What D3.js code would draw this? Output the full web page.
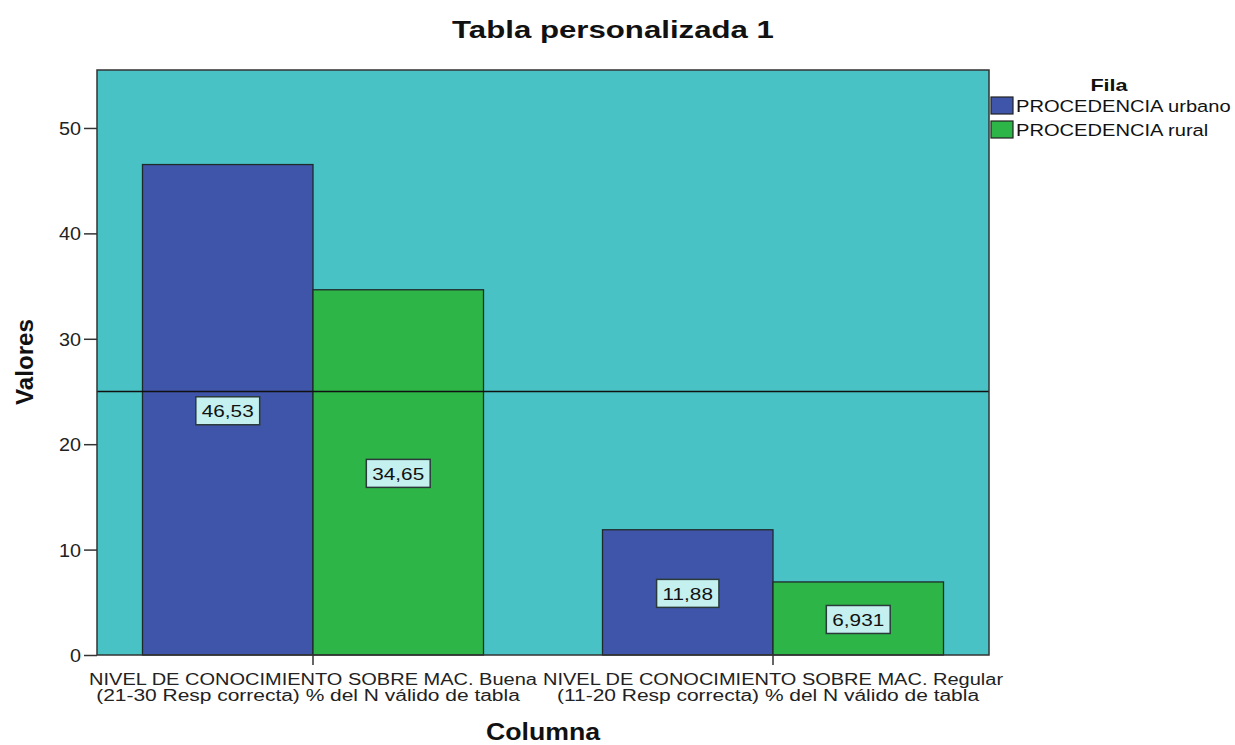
<!DOCTYPE html>
<html>
<head>
<meta charset="utf-8">
<script src="https://cdn.jsdelivr.net/npm/d3@7"></script>
<style>
  body { margin: 0; background: #fff; }
  svg text { font-family: "Liberation Sans", Arial, sans-serif; }
</style>
</head>
<body>
<div id="chart"></div>
<script>
// categories and series
const categories = [
  ["NIVEL DE CONOCIMIENTO SOBRE MAC. Buena", "(21-30 Resp correcta) % del N válido de tabla"],
  ["NIVEL DE CONOCIMIENTO SOBRE MAC. Regular", "(11-20 Resp correcta) % del N válido de tabla"]
];
const seriesNames = ["PROCEDENCIA urbano", "PROCEDENCIA rural"];
const urbano = [46.53, 11.88];
const rural = [34.65, 6.931];
const valueLabels = [["46,53", "11,88"], ["34,65", "6,931"]];
const yTicks = [0, 10, 20, 30, 40, 50];
const refLine = 25;

const colors = ["#3f55a9", "#2db548"];

const W = 1235, H = 745;
const margin = { top: 70, right: 246, bottom: 90, left: 97 };
const width = W - margin.left - margin.right,
    height = H - margin.top - margin.bottom;

const svg = d3.select("#chart").append("svg")
    .attr("width", W).attr("height", H);

// text drawn a bit wider than the font, like the original export
function wideText(parent, x, y, sx, str, size, opts = {}) {
  const grp = parent.append("g")
      .attr("transform", `translate(${x},${y})${opts.rotate ? " rotate(" + opts.rotate + ")" : ""} scale(${sx},1)`);
  const t = grp.append("text")
      .attr("text-anchor", opts.anchor || "start")
      .attr("font-size", size)
      .attr("font-weight", opts.bold ? "bold" : "normal")
      .attr("fill", opts.fill || "#111")
      .text(str);
  if (opts.dy) t.attr("dy", opts.dy);
  return grp;
}

const g = svg.append("g")
    .attr("transform", `translate(${margin.left},${margin.top})`);

// scales
const x0 = d3.scaleBand().domain(d3.range(categories.length))
    .range([0, width]).paddingInner(0.2587).paddingOuter(0.0989);
const x1 = d3.scaleBand().domain(d3.range(seriesNames.length))
    .range([0, x0.bandwidth()]);
const y = d3.scaleLinear().domain([0, 55.5]).range([height, 0]);

// plot background
g.append("rect")
    .attr("width", width).attr("height", height)
    .attr("fill", "#48c2c5");

const series = [urbano, rural];

// bars
series.forEach((vals, s) => {
  g.selectAll(".bar" + s).data(vals).enter().append("rect")
    .attr("x", (d, i) => x0(i) + x1(s))
    .attr("y", d => y(d))
    .attr("width", x1.bandwidth())
    .attr("height", d => y(0) - y(d))
    .attr("fill", colors[s])
    .attr("stroke", "#1f2a2a")
    .attr("stroke-width", 1.3);
});

// reference line
g.append("line")
    .attr("x1", 0).attr("x2", width)
    .attr("y1", y(refLine)).attr("y2", y(refLine))
    .attr("stroke", "#111").attr("stroke-width", 1.5);

// value labels, centred at half the bar height
series.forEach((vals, s) => {
  vals.forEach((v, i) => {
    const cx = x0(i) + x1(s) + x1.bandwidth() / 2,
        cy = y(v / 2) + 1;
    const lg = g.append("g").attr("transform", `translate(${cx},${cy})`);
    const box = lg.append("rect");
    const tg = wideText(lg, 0, 0, 1.22, valueLabels[s][i], 17, { anchor: "middle", dy: "0.36em" });
    const w = tg.select("text").node().getBBox().width * 1.22;
    box.attr("x", -w / 2 - 6).attr("y", -14)
        .attr("width", w + 12).attr("height", 28)
        .attr("fill", "#c4f0ef").attr("stroke", "#2a3a3a").attr("stroke-width", 1.5);
  });
});

// frame
g.append("rect")
    .attr("width", width).attr("height", height)
    .attr("fill", "none").attr("stroke", "#333").attr("stroke-width", 1.5);

// y axis
const yAxis = g.append("g")
    .call(d3.axisLeft(y).tickValues(yTicks).tickSize(13).tickFormat(""));
yAxis.select(".domain").remove();
yAxis.selectAll("line").attr("stroke", "#333").attr("stroke-width", 1.5);
yAxis.selectAll(".tick").each(function (d) {
  wideText(d3.select(this), -16, 0, 1.1, d, 18, { anchor: "end", dy: "0.36em", fill: "#222" });
});

// x axis
const xAxis = g.append("g").attr("transform", `translate(0,${height})`)
    .call(d3.axisBottom(x0).tickSize(10).tickFormat(""));
xAxis.select(".domain").remove();
xAxis.selectAll("line").attr("stroke", "#333").attr("stroke-width", 1.5);
xAxis.selectAll(".tick").each(function (d) {
  categories[d].forEach((line, k) => {
    wideText(d3.select(this), k ? -5 : 0, 30 + k * 16, k ? 1.31 : 1.25, line, 16, { anchor: "middle", fill: "#222" });
  });
});

// title
wideText(svg, 613, 38, 1.3, "Tabla personalizada 1", 24, { anchor: "middle", bold: true });

// axis titles
wideText(svg, 33, 362, 1.05, "Valores", 23, { anchor: "middle", bold: true, rotate: -90 });
wideText(svg, 543, 740, 1.16, "Columna", 23, { anchor: "middle", bold: true });

// legend
const legend = svg.append("g")
    .attr("transform", `translate(${margin.left + width + 1},0)`);
wideText(legend, 119, 91, 1.27, "Fila", 17, { anchor: "middle", bold: true });
seriesNames.forEach((name, i) => {
  legend.append("rect")
      .attr("x", 1).attr("y", 97 + i * 24)
      .attr("width", 22).attr("height", 17)
      .attr("fill", colors[i]).attr("stroke", "#222").attr("stroke-width", 1.2);
  wideText(legend, 26, 112 + i * 24, 1.22, name, 16.5);
});
</script>
</body>
</html>
